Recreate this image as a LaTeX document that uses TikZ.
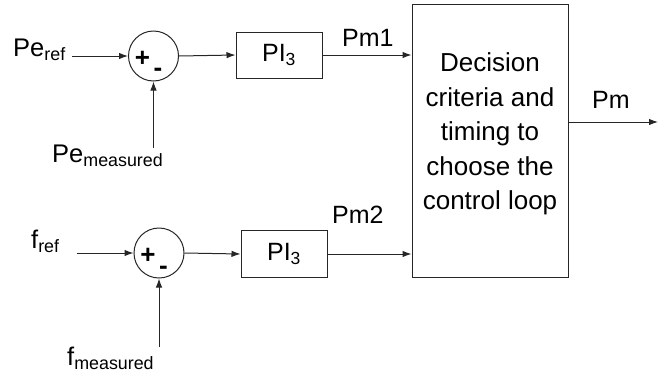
\documentclass[tikz,border=0pt]{standalone}
\usepackage{fontspec}
\setmainfont{Liberation Sans}
\usetikzlibrary{arrows.meta}
\begin{document}
\begin{tikzpicture}[x=1pt,y=-1pt,
  line/.style={draw=black!85, line width=1pt},
  arr/.style={line, -{Latex[length=9pt,width=6.5pt]}},
  sumnode/.style={circle, draw=black!85, line width=1pt, minimum size=50pt, inner sep=0pt},
  blockbox/.style={draw=black!85, line width=1pt, inner sep=0pt},
  lbl/.style={font=\fontsize{25.5}{30}\selectfont, inner sep=0pt, anchor=base west},
  sgn/.style={font=\fontsize{26}{28}\selectfont\bfseries, inner sep=0pt}
]
\useasboundingbox (0,0) rectangle (661,381);
% top loop
\node[sumnode] (s1) at (153.5,56) {};
\node[sgn] (p1) at (142.5,58.5) {+};
\node[sgn] (m1) at (158,72) {-};
\node[blockbox, minimum width=86pt, minimum height=46pt, font=\fontsize{25}{28}\selectfont] (pi1) at (279,55) {PI\textsubscript{3}};
\node[lbl] (peref) at (13,56) {Pe\textsubscript{ref}};
\node[lbl] (pemeas) at (52,162) {Pe\textsubscript{measured}};
\coordinate (in1) at (72,56);
\coordinate (up1) at (153.5,148);
% bottom loop
\node[sumnode] (s2) at (159,253) {};
\node[sgn] (p2) at (148,256) {+};
\node[sgn] (m2) at (163.5,270) {-};
\node[blockbox, minimum width=86pt, minimum height=47pt, font=\fontsize{25}{28}\selectfont] (pi2) at (284,254) {PI\textsubscript{3}};
\node[lbl] (fref) at (31,248) {f\textsubscript{ref}};
\node[lbl] (fmeas) at (67,365) {f\textsubscript{measured}};
\coordinate (in2) at (77,253);
\coordinate (up2) at (159,347);
% decision block
\node[blockbox, minimum width=156pt, minimum height=273pt] (dec) at (490,140.5) {};
\node[font=\fontsize{26}{34.5}\selectfont, align=center, inner sep=0pt] (dectext) at (490,134) {Decision\\criteria and\\timing to\\choose the\\control loop};
\node[lbl, font=\fontsize{25}{30}\selectfont] (pm1) at (342,46) {Pm1};
\node[lbl, font=\fontsize{25}{30}\selectfont] (pm2) at (332,223) {Pm2};
\node[lbl, font=\fontsize{25}{30}\selectfont] (pm) at (592,108) {Pm};
\coordinate (out) at (658,122);
% connectors
\draw[arr] (in1) -- (s1.west);
\draw[arr] (up1) -- (s1.south);
\draw[arr] (s1.east) -- (pi1.west);
\draw[arr] (pi1.east) -- (pi1.east -| dec.west);
\draw[arr] (in2) -- (s2.west);
\draw[arr] (up2) -- (s2.south);
\draw[arr] (s2.east) -- (pi2.west);
\draw[arr] (pi2.east) -- (pi2.east -| dec.west);
\draw[arr] (dec.east |- out) -- (out);
\end{tikzpicture}
\end{document}
